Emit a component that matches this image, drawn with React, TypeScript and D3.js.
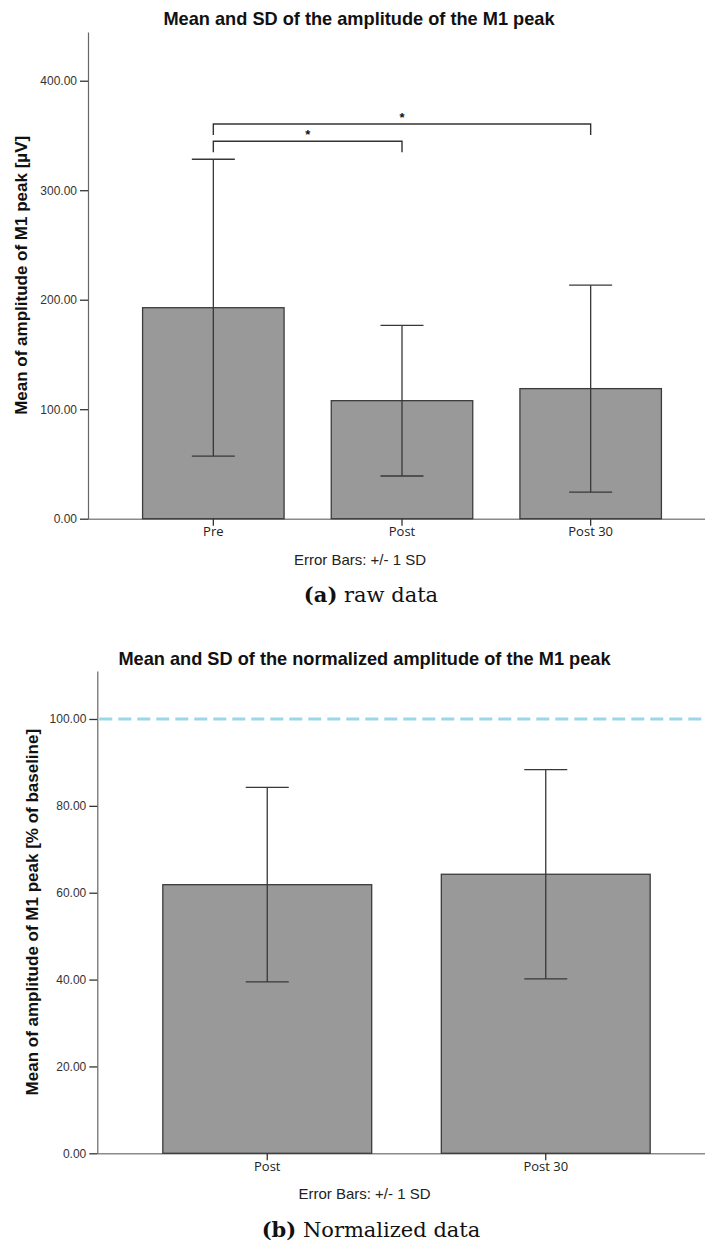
import React, { useEffect, useRef } from 'react';
import * as d3 from 'd3';

// (a) raw data
const rawCategories = ['Pre', 'Post', 'Post 30'];
const rawMeans = [192.7, 107.8, 118.8];
const rawSDs = [135.6, 68.8, 94.5];
const rawTicks = [0, 100, 200, 300, 400];
const rawSignificance = [
    { from: 'Pre', to: 'Post', level: 344.7, label: '*' },
    { from: 'Pre', to: 'Post 30', level: 360.5, label: '*' },
];

// (b) normalized data
const normCategories = ['Post', 'Post 30'];
const normMeans = [61.85, 64.25];
const normSDs = [22.4, 24.1];
const normTicks = [0, 20, 40, 60, 80, 100];
const normReference = 100;

const SANS = "'Liberation Sans', Arial, sans-serif";
const WIDTH = 705;
const HEIGHT = 1245;

const panelA = {
    categories: rawCategories,
    means: rawMeans,
    sds: rawSDs,
    ticks: rawTicks,
    significance: rawSignificance,
    reference: null,
    title: 'Mean and SD of the amplitude of the M1 peak',
    yLabel: 'Mean of amplitude of M1 peak [µV]',
    captionBold: '(a)',
    captionRest: ' raw data',
    axisX: 88,
    yTop: 32,
    yBottom: 518.7,
    yMax: 444.5,
    bandRange: [119, 685],
    titleX: 359,
    titleY: 25,
    labelX: 27,
    errorTextX: 360,
    captionX: 371,
};

const panelB = {
    categories: normCategories,
    means: normMeans,
    sds: normSDs,
    ticks: normTicks,
    significance: [],
    reference: normReference,
    title: 'Mean and SD of the normalized amplitude of the M1 peak',
    yLabel: 'Mean of amplitude of M1 peak [% of baseline]',
    captionBold: '(b)',
    captionRest: ' Normalized data',
    axisX: 97.3,
    yTop: 671,
    yBottom: 1153.3,
    yMax: 111.05,
    bandRange: [128, 685],
    titleX: 364.5,
    titleY: 665,
    labelX: 37.5,
    errorTextX: 364.5,
    captionX: 371,
};

function drawPanel(svg, p) {
    const g = svg.append('g');

    const x = d3.scaleBand()
        .domain(p.categories)
        .range(p.bandRange)
        .paddingInner(0.25)
        .paddingOuter(0.125);

    const y = d3.scaleLinear()
        .domain([0, p.yMax])
        .range([p.yBottom, p.yTop]);

    const y0 = y(0);
    const bw = x.bandwidth();
    const cx = (c) => x(c) + bw / 2;

    // title
    g.append('text')
        .attr('x', p.titleX)
        .attr('y', p.titleY)
        .attr('text-anchor', 'middle')
        .style('font-family', SANS)
        .style('font-size', '18.2px')
        .style('font-weight', 'bold')
        .style('fill', '#111')
        .text(p.title);

    // y label
    g.append('text')
        .attr('transform', `translate(${p.labelX},${(p.yTop + p.yBottom) / 2}) rotate(-90)`)
        .attr('text-anchor', 'middle')
        .style('font-family', SANS)
        .style('font-size', '17px')
        .style('font-weight', 'bold')
        .style('fill', '#111')
        .text(p.yLabel);

    // x axis baseline
    g.append('line')
        .attr('x1', p.axisX)
        .attr('x2', WIDTH)
        .attr('y1', y0 + 0.5)
        .attr('y2', y0 + 0.5)
        .attr('stroke', '#8a8a8a')
        .attr('stroke-width', 1.6);

    // bars
    g.selectAll('rect.bar')
        .data(p.means)
        .join('rect')
        .attr('class', 'bar')
        .attr('x', (_, i) => x(p.categories[i]))
        .attr('y', (d) => y(d))
        .attr('width', bw)
        .attr('height', (d) => y0 - y(d))
        .attr('fill', '#999999')
        .attr('stroke', '#3c3c3c')
        .attr('stroke-width', 1.3);

    // error bars
    const capW = 43;
    const err = g.selectAll('g.err')
        .data(p.means)
        .join('g')
        .attr('class', 'err')
        .attr('stroke', '#383838')
        .attr('stroke-width', 1.3);

    err.append('line')
        .attr('x1', (_, i) => cx(p.categories[i]))
        .attr('x2', (_, i) => cx(p.categories[i]))
        .attr('y1', (d, i) => y(d - p.sds[i]))
        .attr('y2', (d, i) => y(d + p.sds[i]));

    err.append('line')
        .attr('x1', (_, i) => cx(p.categories[i]) - capW / 2)
        .attr('x2', (_, i) => cx(p.categories[i]) + capW / 2)
        .attr('y1', (d, i) => y(d + p.sds[i]))
        .attr('y2', (d, i) => y(d + p.sds[i]));

    err.append('line')
        .attr('x1', (_, i) => cx(p.categories[i]) - capW / 2)
        .attr('x2', (_, i) => cx(p.categories[i]) + capW / 2)
        .attr('y1', (d, i) => y(d - p.sds[i]))
        .attr('y2', (d, i) => y(d - p.sds[i]));

    // x ticks + labels
    g.selectAll('line.xtick')
        .data(p.categories)
        .join('line')
        .attr('class', 'xtick')
        .attr('x1', (d) => cx(d))
        .attr('x2', (d) => cx(d))
        .attr('y1', y0)
        .attr('y2', y0 + 7)
        .attr('stroke', '#333')
        .attr('stroke-width', 1.3);

    g.selectAll('text.xlab')
        .data(p.categories)
        .join('text')
        .attr('class', 'xlab')
        .attr('x', (d) => cx(d))
        .attr('y', y0 + 17.7)
        .attr('text-anchor', 'middle')
        .style('font-family', "'Open Sans', 'DejaVu Sans', sans-serif")
        .style('font-size', '13px')
        .style('fill', '#222')
        .text((d) => d);

    // y axis
    const yAxis = g.append('g')
        .attr('transform', `translate(${p.axisX},0)`)
        .call(d3.axisLeft(y)
            .tickValues(p.ticks)
            .tickFormat(d3.format('.2f'))
            .tickSize(8)
            .tickPadding(3)
            .tickSizeOuter(0));

    yAxis.attr('font-family', SANS).attr('font-size', 12);
    yAxis.select('.domain').attr('stroke', '#666').attr('stroke-width', 1.2);
    yAxis.selectAll('.tick line').attr('stroke', '#333').attr('stroke-width', 1.3);
    yAxis.selectAll('.tick text').attr('fill', '#333');

    // reference line
    if (p.reference != null) {
        g.append('line')
            .attr('x1', p.axisX + 2)
            .attr('x2', WIDTH)
            .attr('y1', y(p.reference))
            .attr('y2', y(p.reference))
            .attr('stroke', '#9ad8e9')
            .attr('stroke-width', 3)
            .attr('stroke-dasharray', '13,6');
    }

    // significance brackets
    p.significance.forEach((s) => {
        const x1 = cx(s.from);
        const x2 = cx(s.to);
        const yl = y(s.level);
        g.append('path')
            .attr('d', `M${x1},${yl + 11}V${yl}H${x2}V${yl + 11}`)
            .attr('fill', 'none')
            .attr('stroke', '#333')
            .attr('stroke-width', 1.4);
        g.append('text')
            .attr('x', (x1 + x2) / 2)
            .attr('y', yl - 2)
            .attr('text-anchor', 'middle')
            .style('font-family', SANS)
            .style('font-size', '13px')
            .style('font-weight', 'bold')
            .style('fill', '#111')
            .text(s.label);
    });

    // footnote
    g.append('text')
        .attr('x', p.errorTextX)
        .attr('y', y0 + 46)
        .attr('text-anchor', 'middle')
        .style('font-family', SANS)
        .style('font-size', '15px')
        .style('fill', '#222')
        .text('Error Bars: +/- 1 SD');

    // caption
    const cap = g.append('text')
        .attr('x', p.captionX)
        .attr('y', y0 + 83.7)
        .attr('text-anchor', 'middle')
        .style('font-family', "'DejaVu Serif', 'Liberation Serif', serif")
        .style('font-size', '21px')
        .style('white-space', 'pre')
        .style('fill', '#111');
    cap.append('tspan').style('font-weight', 'bold').text(p.captionBold);
    cap.append('tspan').text(p.captionRest);
}

export default function App() {
    const svgRef = useRef(null);

    useEffect(() => {
        document.body.style.margin = '0';
        const svg = d3.select(svgRef.current);
        svg.selectAll('*').remove();

        svg.append('rect')
            .attr('width', WIDTH)
            .attr('height', HEIGHT)
            .attr('fill', '#fff');

        drawPanel(svg, panelA);
        drawPanel(svg, panelB);
    }, []);

    return <svg ref={svgRef} width={WIDTH} height={HEIGHT} style={{ display: 'block' }}></svg>;
}
